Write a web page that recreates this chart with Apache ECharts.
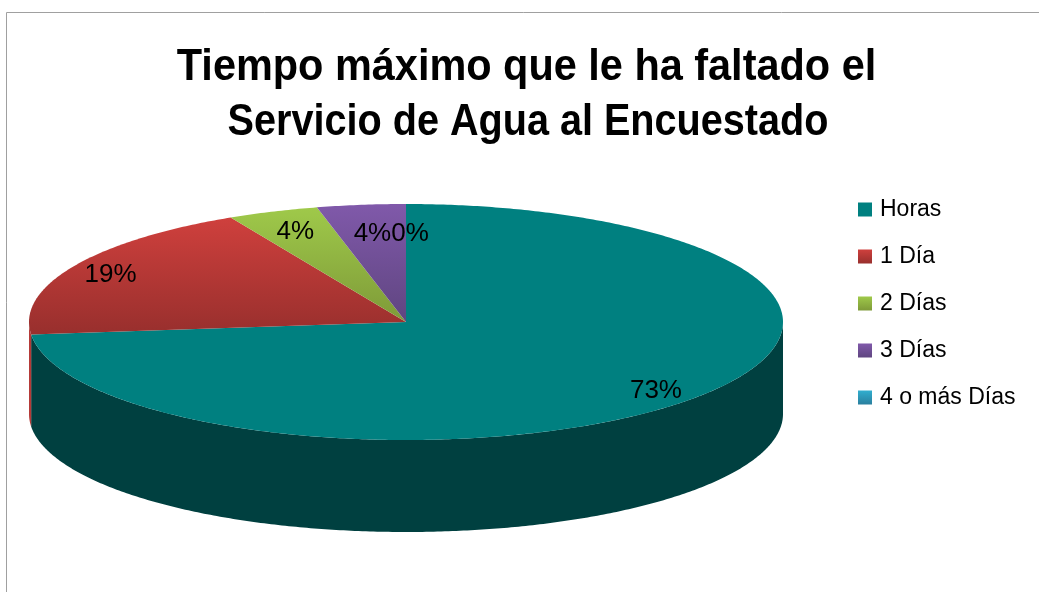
<!DOCTYPE html>
<html>
<head>
<meta charset="utf-8">
<style>html,body{margin:0;padding:0;background:#fff}#c{width:1039px;height:592px}</style>
<script src="https://cdn.jsdelivr.net/npm/echarts@6/dist/echarts.min.js"></script>
</head>
<body>
<div id="c"></div>
<script>
const titleLines = ['Tiempo máximo que le ha faltado el', 'Servicio de Agua al Encuestado'];
const categories = ['Horas', '1 Día', '2 Días', '3 Días', '4 o más Días'];
const shares = [73.3, 19.0, 3.9, 3.8, 0.0];
const topColors = ['#008080', '#cf403d', '#9fc94a', '#8059aa', '#31aecf'];
const bottomColors = ['#008080', '#982f2d', '#7e9a38', '#5f4580', '#2a7f9e'];
const wallColors = ['#004040', '#b53a38', '#6a8030', '#503a70', '#206a80'];
const labelRadius = [0.87, 0.87, 0.83, 0.77, 0.76];
const labelShiftX = [6, -6, 0, 1, 4];
const labelShiftY = [0, 1, 1, 2, 2];

const CX = 406, CY = 322, RX = 377, RY = 118, DEPTH = 92;
const total = shares.reduce((a, b) => a + b, 0);
const rim = t => [CX + RX * Math.sin(t), CY - RY * Math.cos(t)];
const grad = (a, b) => new echarts.graphic.LinearGradient(0, 0, 0, 1, [
  { offset: 0, color: a }, { offset: 1, color: b }
]);
const arc = (a, b) => {
  const n = Math.max(2, Math.ceil((b - a) / 0.01));
  const out = [];
  for (let i = 0; i <= n; i++) out.push(rim(a + (b - a) * i / n));
  return out;
};

function renderSlice(idx) {
  return function (params, api) {
    const value = api.value(0);
    const before = shares.slice(0, idx).reduce((a, b) => a + b, 0);
    const a0 = before / total * 2 * Math.PI;
    const a1 = (before + value) / total * 2 * Math.PI;
    const children = [];
    const w0 = Math.max(a0, Math.PI / 2), w1 = Math.min(a1, 3 * Math.PI / 2);
    if (value > 0 && w1 > w0) {
      const edge = arc(w0, w1);
      const low = edge.slice().reverse().map(p => [p[0], p[1] + DEPTH]);
      children.push({ type: 'polygon', shape: { points: edge.concat(low) },
        style: { fill: wallColors[idx] } });
    }
    if (value > 0) {
      children.push({ type: 'polygon', shape: { points: [[CX, CY]].concat(arc(a0, a1)) },
        style: { fill: grad(topColors[idx], bottomColors[idx]) } });
    }
    const mid = (a0 + a1) / 2, f = labelRadius[idx];
    children.push({ type: 'text', z2: 10, style: {
      x: CX + RX * f * Math.sin(mid) + labelShiftX[idx],
      y: CY - RY * f * Math.cos(mid) + labelShiftY[idx],
      text: Math.round(value) + '%', fill: '#000',
      font: '26px "Liberation Sans", Arial, sans-serif',
      textAlign: 'center', verticalAlign: 'middle'
    } });
    return { type: 'group', children };
  };
}

const titleFont = 'bold 44px "Liberation Sans", Arial, sans-serif';
const chart = echarts.init(document.getElementById('c'), null, { renderer: 'canvas' });
chart.setOption({
  animation: false,
  backgroundColor: '#fff',
  legend: {
    orient: 'vertical', left: 853, top: 192, icon: 'rect',
    itemWidth: 14, itemHeight: 14, itemGap: 22, selectedMode: false,
    textStyle: { fontFamily: '"Liberation Sans", Arial, sans-serif', fontSize: 23, color: '#000', padding: [0, 0, 0, 3], lineHeight: 25 },
    data: categories.map((name, i) => ({ name, itemStyle: { color: grad(topColors[i], bottomColors[i]) } }))
  },
  graphic: [
    { type: 'rect', silent: true, shape: { x: 6.5, y: 12.5, width: 1200, height: 800 },
      style: { fill: 'none', stroke: '#a0a0a0', lineWidth: 1 } },
    { type: 'text', silent: true, x: 526.5, y: 68, scaleX: 0.942,
      style: { text: titleLines[0], font: titleFont, fill: '#000', textAlign: 'center', verticalAlign: 'middle' } },
    { type: 'text', silent: true, x: 528, y: 123, scaleX: 0.90,
      style: { text: titleLines[1], font: titleFont, fill: '#000', textAlign: 'center', verticalAlign: 'middle' } }
  ],
  series: categories.map((name, i) => ({
    type: 'custom', name, coordinateSystem: 'none',
    renderItem: renderSlice(i),
    itemStyle: { color: topColors[i] },
    data: [[shares[i]]]
  }))
});
</script>
</body>
</html>
